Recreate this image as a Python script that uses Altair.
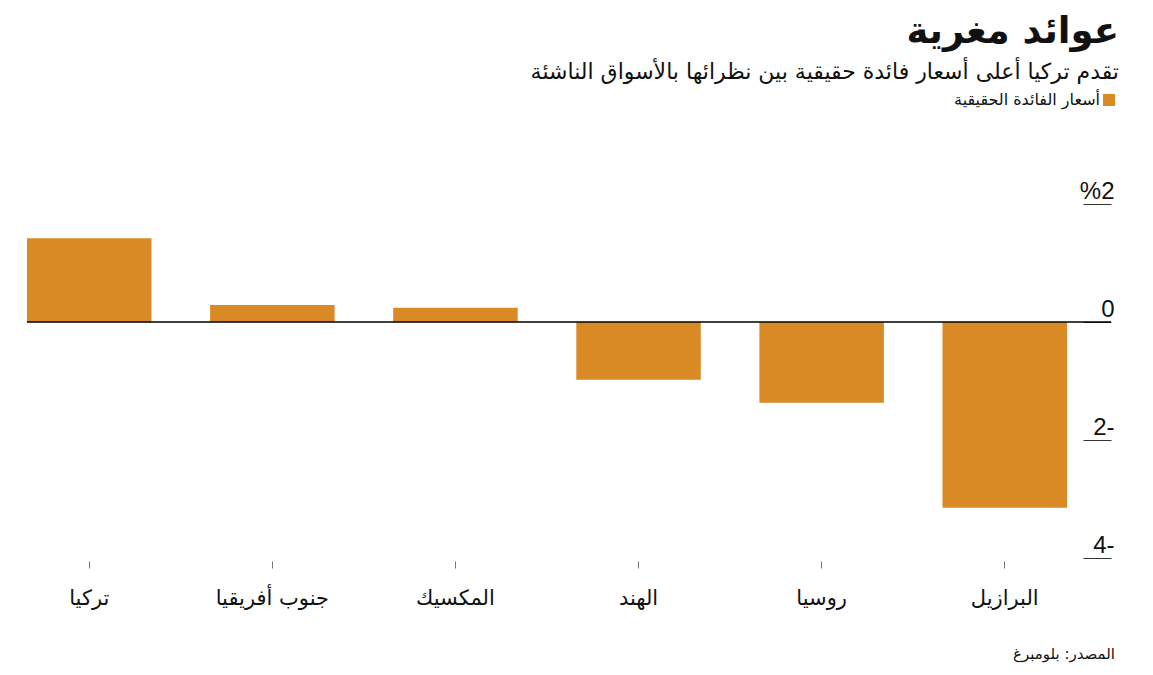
import altair as alt
import pandas as pd

countries = ["تركيا", "جنوب أفريقيا", "المكسيك", "الهند", "روسيا", "البرازيل"]
values = [1.42, 0.29, 0.24, -0.98, -1.37, -3.15]
series_name = "أسعار الفائدة الحقيقية"
y_ticks = [2, 0, -2, -4]
title_text = "عوائد مغرية"
subtitle_text = "تقدم تركيا أعلى أسعار فائدة حقيقية بين نظرائها بالأسواق الناشئة"
source_text = "المصدر: بلومبرغ"

df = pd.DataFrame({"country": countries, "value": values,
                   "series": [series_name] * len(countries)})

W, H = 1084, 354
AR = "DejaVu Sans"
ORANGE = "#DA8A25"
# square drawn to the right of its label (right-to-left legend)
RTL_SQUARE = "M1.83,-1H3.83V1H1.83Z"

bars = alt.Chart(df).mark_bar().encode(
    x=alt.X("country:N", sort=countries,
            scale=alt.Scale(range=[0, 1040], paddingInner=0.32, paddingOuter=0),
            axis=alt.Axis(title=None, domain=False, ticks=True, tickSize=7, offset=3,
                          tickColor="#777", labelFont=AR, labelFontSize=21,
                          labelColor="#111", labelPadding=19, labelAngle=0)),
    y=alt.Y("value:Q", scale=alt.Scale(domain=[-4, 2], nice=False, zero=False),
            axis=alt.Axis(title=None, orient="right", values=y_ticks, domain=False,
                          grid=False, tickSize=28, offset=-28, tickColor="#333",
                          labelAlign="right", labelBaseline="alphabetic",
                          labelOffset=-6, labelPadding=3, labelFont="Liberation Sans",
                          labelFontSize=24, labelColor="#111",
                          labelExpr="datum.value > 0 ? '%' + datum.value : (datum.value < 0 ? abs(datum.value) + '-' : '0')")),
    color=alt.Color("series:N", scale=alt.Scale(range=[ORANGE]),
                    legend=alt.Legend(title=None, orient="none", legendX=1057, legendY=-112,
                                      symbolType=RTL_SQUARE, symbolSize=144,
                                      symbolStrokeWidth=0, symbolOffset=0,
                                      labelAlign="right", labelOffset=0,
                                      labelFont=AR, labelFontSize=16,
                                      labelColor="#111")),
)

zero = alt.Chart(pd.DataFrame({"z": [0]})).mark_rule(color="black", strokeWidth=1.3).encode(
    y="z:Q")

source = alt.Chart(pd.DataFrame({"t": [source_text]})).mark_text(
    align="right", baseline="alphabetic", font=AR, fontSize=15, color="#111").encode(
    text="t:N", x=alt.value(1088), y=alt.value(H + 101))

chart = alt.layer(bars, zero, source).properties(
    width=W, height=H,
    autosize=alt.AutoSizeParams(type="none"),
    padding={"left": 19, "top": 196, "right": 30, "bottom": 110},
    background="white",
    title=alt.TitleParams(text=title_text, subtitle=subtitle_text, anchor="end",
                          align="right", font=AR, fontSize=37, fontWeight="bold",
                          color="#111", subtitleFont=AR, subtitleFontSize=22,
                          subtitleColor="#111", subtitlePadding=11, offset=8, dx=4),
).configure_view(strokeWidth=0, stroke="transparent")

chart.save("out.html", embed_options={"renderer": "svg", "actions": False})
